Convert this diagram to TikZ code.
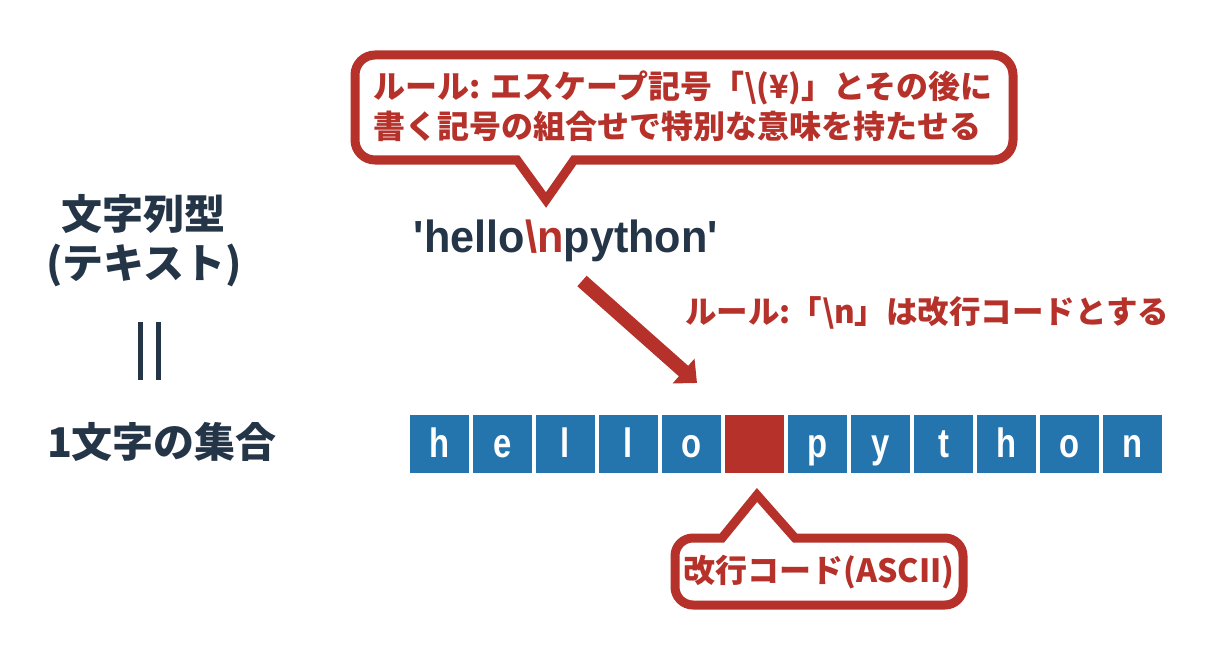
\documentclass[tikz,border=0pt]{standalone}
\usepackage{fontspec}
\usetikzlibrary{arrows.meta}
\newfontfamily\jp{Noto Sans CJK JP}
\newfontfamily\lat{Liberation Sans}[FakeStretch=0.96]
\newfontfamily\latc{Liberation Sans}[FakeStretch=0.8]
\definecolor{accent}{HTML}{B5312A}
\definecolor{boxblue}{HTML}{2474AE}
\definecolor{ink}{HTML}{243548}
\begin{document}
\begin{tikzpicture}[x=1pt,y=-1pt,
  bubble/.style={draw=accent, line width=9pt, fill=white, line join=miter},
  bubbletext/.style={text=accent, inner sep=0pt, align=left, font=\jp\bfseries\fontsize{32}{40}\selectfont},
  lefttext/.style={text=ink, inner sep=0pt, font=\jp\bfseries\fontsize{41}{48}\selectfont},
  cell/.style={fill=boxblue, minimum width=59pt, minimum height=58pt, inner sep=0pt, text height=26pt, text depth=0pt, text=white, font=\latc\bfseries\fontsize{41}{41}\selectfont},
  nlcell/.style={cell, fill=accent},
  bigarrow/.style={draw=accent, line width=14pt, -{Triangle[length=18pt,width=32pt]}}
]
\useasboundingbox (0,0) rectangle (1210,650);

% left column
\node[lefttext] (t1) at (143,214) {文字列型};
\node[lefttext] (t2) at (144,265) {(テキスト)};
\node[lefttext] (t3) at (162,442) {1文字の集合};
\draw[ink, line width=5pt] (140,322) -- (140,380);
\draw[ink, line width=5pt] (158,322) -- (158,380);

% top callout
\draw[bubble] (546,200) -- (574,160) [rounded corners=20pt] -- (1013,160) -- (1013,55) -- (355,55) -- (355,160) [sharp corners] -- (517,160) -- cycle;
\node[bubbletext] (c1) at (683,106) {ルール: エスケープ記号「\textbackslash(¥)」とその後に\\書く記号の組合せで特別な意味を持たせる};

% string
\node[inner sep=0pt, text=ink, font=\lat\bfseries\fontsize{45}{50}\selectfont] (str) at (566,241)
  {\textquotesingle hello{\color{accent}\textbackslash n}python\textquotesingle};

% arrow
\coordinate (a1) at (582,281);
\coordinate (a2) at (697,383);
\draw[bigarrow] (a1) -- (a2);

\node[text=accent, inner sep=0pt, font=\jp\bfseries\fontsize{31.5}{36}\selectfont] (rule) at (927,313)
  {ルール:「\textbackslash n」は改行コードとする};

% cells
\node[cell] (b1) at (439.5,444) {h};
\node[cell] (b2) at (502.5,444) {e};
\node[cell] (b3) at (565.5,444) {l};
\node[cell] (b4) at (628.5,444) {l};
\node[cell] (b5) at (691.5,444) {o};
\node[nlcell] (b6) at (754.5,444) {};
\node[cell] (b7) at (817.5,444) {p};
\node[cell] (b8) at (880.5,444) {y};
\node[cell] (b9) at (943.5,444) {t};
\node[cell] (b10) at (1006.5,444) {h};
\node[cell] (b11) at (1069.5,444) {o};
\node[cell] (b12) at (1132.5,444) {n};

% bottom callout
\draw[bubble] (757,495) -- (795,538) [rounded corners=18pt] -- (963,538) -- (963,605) -- (675,605) -- (675,538) [sharp corners] -- (722,538) -- cycle;
\node[bubbletext] (c2) at (819,572) {改行コード(ASCII)};
\end{tikzpicture}
\end{document}
